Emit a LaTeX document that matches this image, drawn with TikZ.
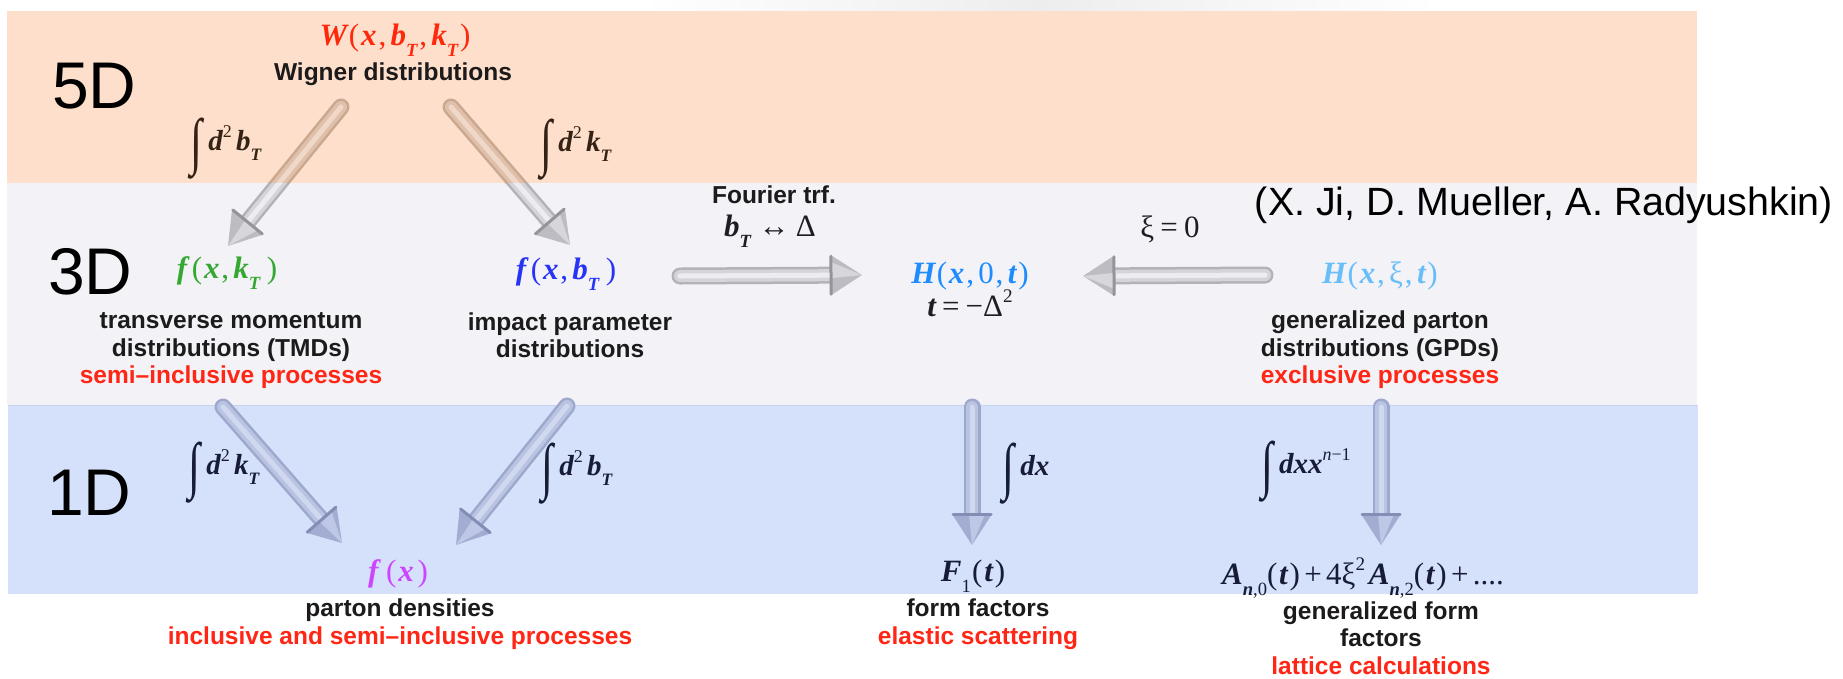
\documentclass[tikz,border=0pt]{standalone}
\usepackage{fontspec}
\usepackage{graphicx}
\setmainfont{Liberation Sans}
\newfontfamily\lserif{Liberation Serif}
\usetikzlibrary{calc}

\definecolor{peach}{RGB}{253,223,203}
\definecolor{greyband}{RGB}{242,242,247}
\definecolor{blueband}{RGB}{213,224,251}
\definecolor{blueedge}{RGB}{198,210,242}
\definecolor{labblack}{RGB}{28,26,26}
\definecolor{lred}{RGB}{255,38,22}
\definecolor{wred}{RGB}{255,40,10}
\definecolor{fgreen}{RGB}{52,168,48}
\definecolor{fblue}{RGB}{40,52,245}
\definecolor{hblue}{RGB}{30,140,255}
\definecolor{hlight}{RGB}{105,190,250}
\definecolor{fmag}{RGB}{205,70,255}
\definecolor{navy}{RGB}{22,28,52}
\definecolor{intbrown}{RGB}{52,34,20}
\definecolor{dk}{RGB}{30,30,34}
% grey arrows
\definecolor{gedge}{RGB}{178,178,184}
\definecolor{gmid}{RGB}{212,212,217}
\definecolor{glight}{RGB}{237,237,241}
\definecolor{gcone}{RGB}{188,188,194}
\definecolor{gconel}{RGB}{214,214,219}
\definecolor{grim}{RGB}{148,148,155}
% tan (upper part of the 5D arrows, seen through the peach band)
\definecolor{tedge}{RGB}{202,168,144}
\definecolor{tmid}{RGB}{224,192,170}
\definecolor{tlight}{RGB}{240,216,200}
\definecolor{tcone}{RGB}{200,170,150}
\definecolor{tconel}{RGB}{222,195,178}
\definecolor{trim}{RGB}{170,140,120}
% bluish arrows
\definecolor{bedge}{RGB}{158,168,204}
\definecolor{bmid}{RGB}{185,195,226}
\definecolor{blight}{RGB}{208,216,240}
\definecolor{bcone}{RGB}{163,173,209}
\definecolor{bconel}{RGB}{190,200,230}
\definecolor{brim}{RGB}{132,142,180}

\newcommand\bi[1]{{\bfseries\itshape #1}}
\newcommand\sbs[1]{\raisebox{-0.34em}{\scalebox{0.6}{#1}}}
\newcommand\sps[1]{\raisebox{0.45em}{\scalebox{0.62}{#1}}}
\newcommand\cmm{\hspace{0.06em},\hspace{0.14em}}
\newcommand\lp{(\hspace{0.06em}}
\newcommand\rp{\hspace{0.06em})}
\newcommand\intg{\raisebox{-0.42em}{\scalebox{1.5}[2.15]{∫}}}

% cylinder arrow: tail, tip, colour prefix
\newcommand\cylarr[3]{%
  \coordinate (cb) at ($(#2)!31pt!(#1)$);
  \draw[line width=17pt,#3edge,line cap=round] (#1) -- (cb);
  \draw[line width=12pt,#3mid,line cap=round] (#1) -- (cb);
  \draw[line width=5pt,#3light,line cap=round] (#1) -- (cb);
  \fill[#3cone] (#2) -- ($(cb)!20pt!90:(#2)$) -- ($(cb)!20pt!-90:(#2)$) -- cycle;
  \fill[#3conel] (#2) -- ($(cb)!13pt!90:(#2)$) -- ($(cb)!3pt!-90:(#2)$) -- cycle;
  \draw[#3rim,line width=3pt,line cap=round] ($(cb)!19pt!90:(#2)$) -- ($(cb)!19pt!-90:(#2)$);
}

\tikzset{
  lab/.style={font=\fontsize{24.5}{27.5}\selectfont\bfseries, text=labblack, align=center, inner sep=0pt},
  big/.style={font=\fontsize{66}{70}\selectfont, text=black, inner sep=0pt, anchor=west},
  cite/.style={font=\fontsize{39.4}{44}\selectfont, text=black, inner sep=0pt},
  fml/.style={font=\lserif\fontsize{31}{34}\selectfont, inner sep=0pt},
  intl/.style={font=\lserif\fontsize{29}{34}\selectfont, inner sep=0pt},
}

\begin{document}
\begin{tikzpicture}[x=1pt,y=-1pt]
\useasboundingbox (0,0) rectangle (1843,678);
\fill[white] (0,0) rectangle (1843,678);
\shade[left color=white,right color=white,middle color=gray!14] (640,0) rectangle (1440,11);
% bands
\fill[peach] (7,11) rectangle (1697,183);
\fill[greyband] (7,183) rectangle (1697,405);
\fill[blueband] (8,405) rectangle (1698,594);
\draw[blueedge,line width=1pt] (8,405.5) -- (1698,405.5);

% dimension labels
\node[big] (d5) at (52,86) {5D};
\node[big] (d3) at (48,272) {3D};
\node[big] (d1) at (47,493) {1D};

% citation
\node[cite] (ref) at (1544,205) {(X. Ji, D. Mueller, A. Radyushkin)};

% 5D row
\node[fml,text=wred] (W) at (395,40) {\bi{W}\hspace{0.06em}\lp\bi{x}\cmm\bi{b}\sbs{\bi{T}}\cmm\bi{k}\sbs{\bi{T}}\rp};
\node[lab] (wig) at (393,74) {Wigner distributions};
\node[intl,text=intbrown] (ib5) at (226,149) {\intg\hspace{0.2em}\bi{d}\sps{2}\hspace{0.15em}\bi{b}\sbs{\bi{T}}};
\node[intl,text=intbrown] (ik5) at (576,150) {\intg\hspace{0.2em}\bi{d}\sps{2}\hspace{0.15em}\bi{k}\sbs{\bi{T}}};

% 3D row
\node[fml,text=fgreen] (fk) at (227,273) {\bi{f}\hspace{0.15em}\lp\bi{x}\cmm\bi{k}\sbs{\bi{T}}\hspace{0.15em}\rp};
\node[lab] (tmd) at (231,351) {transverse momentum\\distributions (TMDs)\\\textcolor{lred}{semi–inclusive processes}};
\node[fml,text=fblue] (fb) at (566,274) {\bi{f}\hspace{0.15em}\lp\bi{x}\cmm\bi{b}\sbs{\bi{T}}\hspace{0.15em}\rp};
\node[lab] (ipd) at (570,335) {impact parameter\\distributions};
\node[lab] (ft) at (774,195) {Fourier trf.};
\node[fml,text=dk] (bd) at (770,231) {\bi{b}\sbs{\bi{T}}\hspace{0.25em}↔\hspace{0.2em}Δ};
\node[fml,text=hblue] (H0) at (970,276) {\bi{H}\hspace{0.04em}\lp\bi{x}\cmm 0\cmm\bi{t}\rp};
\node[fml,text=dk] (tD) at (970,303) {\bi{t}\hspace{0.2em}=\hspace{0.2em}−Δ\sps{2}};
\node[fml,text=dk] (xi) at (1170,229) {ξ\hspace{0.2em}=\hspace{0.2em}0};
\node[fml,text=hlight] (Hx) at (1380,276) {\bi{H}\hspace{0.04em}\lp\bi{x}\cmm ξ\cmm\bi{t}\rp};
\node[lab] (gpd) at (1380,350) {generalized parton\\distributions (GPDs)\\\textcolor{lred}{exclusive processes}};

% 1D row
\node[intl,text=navy] (ik1) at (224,473) {\intg\hspace{0.2em}\bi{d}\sps{2}\hspace{0.15em}\bi{k}\sbs{\bi{T}}};
\node[intl,text=navy] (ib1) at (577,474) {\intg\hspace{0.2em}\bi{d}\sps{2}\hspace{0.15em}\bi{b}\sbs{\bi{T}}};
\node[fml,text=fmag] (fx) at (398,574) {\bi{f}\hspace{0.25em}\lp\bi{x}\hspace{0.06em}\rp};
\node[lab] (pd) at (400,624) {parton densities\\\textcolor{lred}{inclusive and semi–inclusive processes}};
\node[intl,text=navy] (idx) at (1026,474) {\intg\hspace{0.2em}\bi{d}\bi{x}};
\node[fml,text=navy] (F1) at (973,576) {\bi{F}\sbs{1}\hspace{0.04em}\lp\bi{t}\rp};
\node[lab] (ff) at (978,624) {form factors\\\textcolor{lred}{elastic scattering}};
\node[intl,text=navy] (idxx) at (1306,472) {\intg\hspace{0.2em}\bi{d}\bi{x}\bi{x}\sps{\textit{n}−1}};
\node[fml,text=navy] (An) at (1363,578) {\bi{A}\sbs{\bi{n},0}\lp\bi{t}\rp\hspace{0.14em}+\hspace{0.14em}4ξ\sps{2}\hspace{0.12em}\bi{A}\sbs{\bi{n},2}\lp\bi{t}\rp\hspace{0.14em}+\hspace{0.14em}....};
\node[lab] (gff) at (1381,638) {generalized form\\factors\\\textcolor{lred}{lattice calculations}};

% arrow end points
\coordinate (a1t) at (341,107); \coordinate (a1h) at (228,246);
\coordinate (a2t) at (451,107); \coordinate (a2h) at (570,245);
\coordinate (a3t) at (680,276); \coordinate (a3h) at (862,275);
\coordinate (a4t) at (1265,275); \coordinate (a4h) at (1083,276);
\coordinate (a5t) at (223,407); \coordinate (a5h) at (342,543);
\coordinate (a6t) at (567,406); \coordinate (a6h) at (456,545);
\coordinate (a7t) at (972,407); \coordinate (a7h) at (972,545);
\coordinate (a8t) at (1381,407); \coordinate (a8h) at (1381,545);

% 5D -> 3D arrows: tan where they cross the peach band, grey below
\begin{scope}
  \clip (0,0) rectangle (1843,183);
  \cylarr{a1t}{a1h}{t}
  \cylarr{a2t}{a2h}{t}
\end{scope}
\begin{scope}
  \clip (0,183) rectangle (1843,678);
  \cylarr{a1t}{a1h}{g}
  \cylarr{a2t}{a2h}{g}
\end{scope}
\cylarr{a3t}{a3h}{g}
\cylarr{a4t}{a4h}{g}
\cylarr{a5t}{a5h}{b}
\cylarr{a6t}{a6h}{b}
\cylarr{a7t}{a7h}{b}
\cylarr{a8t}{a8h}{b}
\end{tikzpicture}
\end{document}
